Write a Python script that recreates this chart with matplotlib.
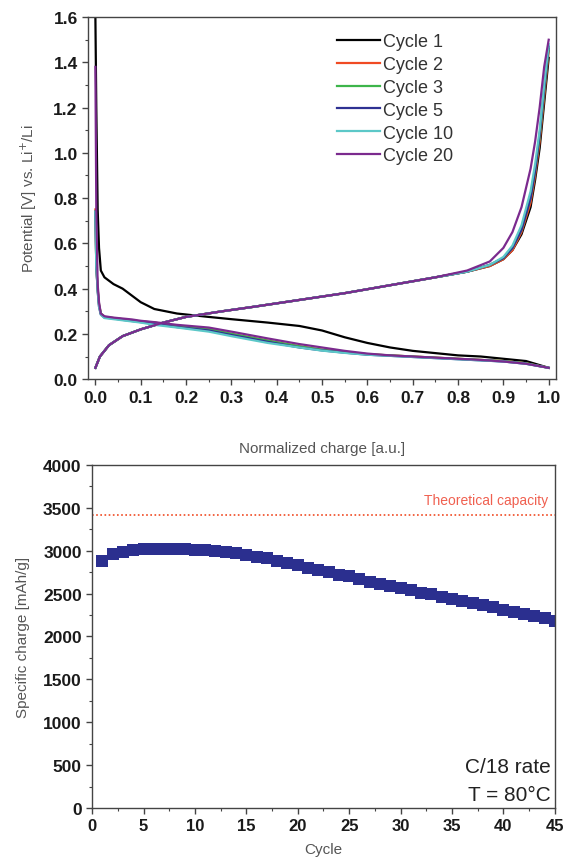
import matplotlib
matplotlib.use("Agg")
import matplotlib.pyplot as plt
from matplotlib.ticker import MultipleLocator, AutoMinorLocator

plt.rcParams['font.family'] = ['Liberation Sans', 'DejaVu Sans']

# ---- Datos: curvas de potencial (carga normalizada) ----
cycle_labels = ["Cycle 1", "Cycle 2", "Cycle 3", "Cycle 5", "Cycle 10", "Cycle 20"]
cycle_colors = ["#000000", "#F04A23", "#3DB54A", "#2E3192", "#5CC8C8", "#7B2A8E"]

# descarga (litiación)
q_dis = [0.0, 0.002, 0.005, 0.008, 0.012, 0.02, 0.04, 0.06, 0.08, 0.1, 0.13, 0.18, 0.25, 0.3,
         0.38, 0.45, 0.5, 0.55, 0.6, 0.65, 0.7, 0.75, 0.8, 0.85, 0.9, 0.95, 1.0]
v_dis_c1 = [1.60, 1.20, 0.75, 0.58, 0.48, 0.45, 0.42, 0.40, 0.37, 0.34, 0.31, 0.29, 0.275, 0.265,
            0.25, 0.235, 0.215, 0.185, 0.16, 0.14, 0.125, 0.115, 0.105, 0.10, 0.09, 0.08, 0.05]
v_dis_c2 = [0.75, 0.50, 0.40, 0.33, 0.29, 0.275, 0.27, 0.265, 0.26, 0.255, 0.25, 0.235, 0.22, 0.20,
            0.17, 0.145, 0.13, 0.12, 0.11, 0.105, 0.10, 0.095, 0.09, 0.085, 0.08, 0.07, 0.05]
v_dis_c3 = [0.74, 0.50, 0.40, 0.33, 0.29, 0.275, 0.27, 0.265, 0.26, 0.255, 0.25, 0.235, 0.22, 0.20,
            0.17, 0.145, 0.13, 0.12, 0.11, 0.105, 0.10, 0.095, 0.09, 0.085, 0.08, 0.07, 0.05]
v_dis_c5 = [0.74, 0.50, 0.39, 0.32, 0.285, 0.272, 0.268, 0.262, 0.257, 0.252, 0.245, 0.23, 0.215, 0.195,
            0.165, 0.14, 0.127, 0.117, 0.108, 0.103, 0.098, 0.093, 0.088, 0.083, 0.078, 0.068, 0.05]
v_dis_c10 = [0.74, 0.50, 0.39, 0.32, 0.285, 0.27, 0.265, 0.26, 0.255, 0.25, 0.24, 0.228, 0.21, 0.19,
             0.16, 0.14, 0.126, 0.116, 0.108, 0.103, 0.098, 0.093, 0.088, 0.083, 0.078, 0.068, 0.05]
v_dis_c20 = [1.38, 0.75, 0.42, 0.34, 0.29, 0.278, 0.272, 0.268, 0.264, 0.258, 0.252, 0.24, 0.228, 0.21,
             0.18, 0.155, 0.14, 0.125, 0.113, 0.105, 0.10, 0.095, 0.09, 0.085, 0.078, 0.068, 0.05]

# carga (delitiación)
q_ch = [0.0, 0.01, 0.03, 0.06, 0.1, 0.15, 0.2, 0.28, 0.35, 0.45, 0.55, 0.65, 0.75, 0.82,
        0.87, 0.9, 0.92, 0.94, 0.96, 0.97, 0.98, 0.99, 1.0]
v_ch_c1 = [0.05, 0.10, 0.15, 0.19, 0.22, 0.25, 0.275, 0.30, 0.32, 0.35, 0.38, 0.415, 0.45, 0.475,
           0.50, 0.53, 0.57, 0.64, 0.76, 0.88, 1.02, 1.22, 1.42]
v_ch_c2 = [0.05, 0.10, 0.15, 0.19, 0.22, 0.25, 0.275, 0.30, 0.32, 0.35, 0.38, 0.415, 0.45, 0.475,
           0.50, 0.53, 0.57, 0.65, 0.78, 0.90, 1.05, 1.25, 1.45]
v_ch_c3 = [0.05, 0.10, 0.15, 0.19, 0.22, 0.25, 0.275, 0.30, 0.32, 0.35, 0.38, 0.415, 0.45, 0.475,
           0.505, 0.535, 0.58, 0.66, 0.80, 0.92, 1.07, 1.27, 1.46]
v_ch_c5 = [0.05, 0.10, 0.15, 0.19, 0.22, 0.25, 0.275, 0.30, 0.32, 0.35, 0.38, 0.415, 0.45, 0.475,
           0.505, 0.535, 0.58, 0.66, 0.80, 0.92, 1.08, 1.28, 1.47]
v_ch_c10 = [0.05, 0.10, 0.15, 0.19, 0.22, 0.25, 0.275, 0.30, 0.32, 0.35, 0.38, 0.415, 0.45, 0.475,
            0.505, 0.54, 0.59, 0.68, 0.83, 0.95, 1.10, 1.30, 1.48]
v_ch_c20 = [0.05, 0.10, 0.15, 0.19, 0.22, 0.25, 0.275, 0.30, 0.32, 0.35, 0.38, 0.415, 0.45, 0.48,
            0.52, 0.58, 0.65, 0.76, 0.93, 1.05, 1.20, 1.38, 1.50]

v_dis = [v_dis_c1, v_dis_c2, v_dis_c3, v_dis_c5, v_dis_c10, v_dis_c20]
v_ch = [v_ch_c1, v_ch_c2, v_ch_c3, v_ch_c5, v_ch_c10, v_ch_c20]

# ---- Datos: capacidad específica por ciclo ----
cycles = list(range(1, 46))
specific_charge = [2880, 2960, 2985, 3005, 3015, 3020, 3025, 3025, 3020, 3012,
                   3005, 2995, 2985, 2970, 2950, 2930, 2910, 2880, 2860, 2830,
                   2800, 2770, 2750, 2720, 2700, 2670, 2640, 2610, 2590, 2560,
                   2540, 2510, 2490, 2460, 2440, 2410, 2390, 2370, 2340, 2310,
                   2290, 2260, 2240, 2210, 2180]
theoretical_capacity = 3420

label_gray = "#555555"

fig = plt.figure(figsize=(5.65, 8.62), dpi=100)

# ---- Gráfico superior ----
ax1 = fig.add_axes([0.156, 0.559, 0.828, 0.420])
for i in range(len(cycle_labels)):
    ax1.plot(q_dis, v_dis[i], color=cycle_colors[i], lw=1.6, label=cycle_labels[i])
    ax1.plot(q_ch, v_ch[i], color=cycle_colors[i], lw=1.6)
ax1.set_xlim(-0.016, 1.016)
ax1.set_ylim(0, 1.6)
ax1.xaxis.set_minor_locator(MultipleLocator(0.05))
ax1.yaxis.set_major_locator(MultipleLocator(0.2))
ax1.yaxis.set_minor_locator(MultipleLocator(0.1))
ax1.set_xticks([0.0, 0.1, 0.2, 0.3, 0.4, 0.5, 0.6, 0.7, 0.8, 0.9, 1.0])
ax1.set_xticklabels(["0.0", "0.1", "0.2", "0.3", "0.4", "0.5", "0.6", "0.7", "0.8", "0.9", "1.0"])
ax1.set_ylabel("Potential [V] vs. Li$^{+}$/Li", color=label_gray, fontsize=11, labelpad=10)
ax1.set_xlabel("Normalized charge [a.u.]", color=label_gray, fontsize=11, labelpad=26)
leg = ax1.legend(loc="upper left", bbox_to_anchor=(0.531, 0.955), frameon=False, fontsize=13,
                 handlelength=2.4, handletextpad=0.15, labelspacing=0.32, borderaxespad=0,
                 borderpad=0)
for t in leg.get_texts():
    t.set_color("#333333")

# ---- Gráfico inferior ----
ax2 = fig.add_axes([0.163, 0.0615, 0.819, 0.398])
ax2.plot(cycles, specific_charge, linestyle="none", marker="s", markersize=8.5,
         color="#2B2F8F", markeredgewidth=0)
ax2.axhline(theoretical_capacity, color="#F04A23", linestyle=(0, (1, 1.5)), lw=1.2)
ax2.text(44.3, theoretical_capacity + 90, "Theoretical capacity", color="#F06050",
         fontsize=10, ha="right", va="bottom")
ax2.text(44.6, 478, "C/18 rate", fontsize=15, ha="right", va="center", color="#222222")
ax2.text(44.6, 163, "T = 80°C", fontsize=15, ha="right", va="center", color="#222222")
ax2.set_xlim(0, 45)
ax2.set_ylim(0, 4000)
ax2.xaxis.set_major_locator(MultipleLocator(5))
ax2.xaxis.set_minor_locator(AutoMinorLocator(2))
ax2.yaxis.set_major_locator(MultipleLocator(500))
ax2.yaxis.set_minor_locator(AutoMinorLocator(2))
ax2.set_ylabel("Specific charge [mAh/g]", color=label_gray, fontsize=11, labelpad=9)
ax2.set_xlabel("Cycle", color=label_gray, fontsize=11, labelpad=6)

for ax in (ax1, ax2):
    ax.tick_params(which="both", direction="out", color="#444444")
    ax.tick_params(which="major", length=4, width=1, labelsize=12.5)
    ax.tick_params(which="minor", length=2.5, width=0.8)
    for lab in ax.get_xticklabels() + ax.get_yticklabels():
        lab.set_fontweight("bold")
        lab.set_color("#1a1a1a")
    for s in ax.spines.values():
        s.set_color("#444444")
        s.set_linewidth(1)
ax2.tick_params(axis="x", which="major", labelsize=12)

fig.savefig("out.png", dpi=100)
